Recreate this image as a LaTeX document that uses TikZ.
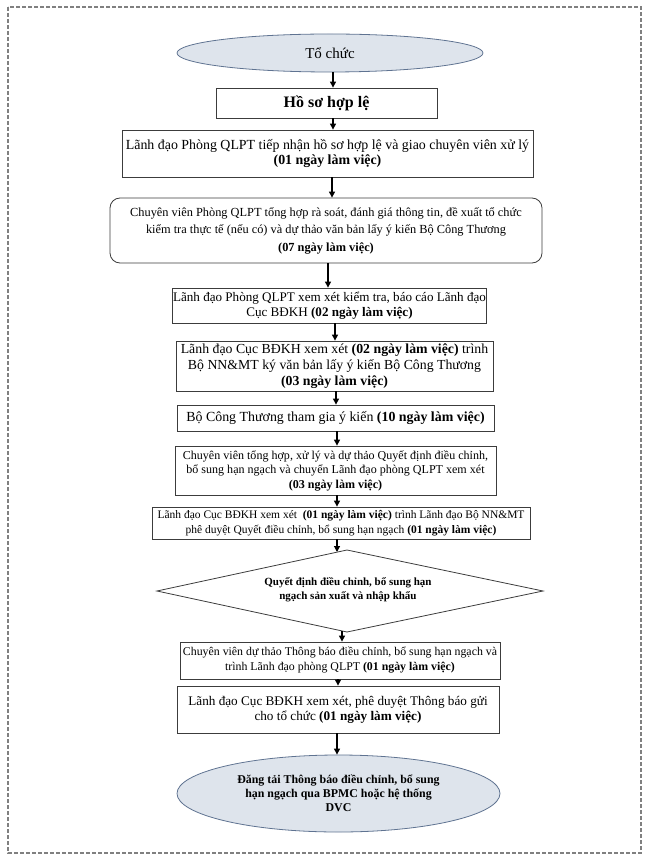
\documentclass[tikz,border=0pt]{standalone}
\usepackage{fontspec}
\setmainfont{Liberation Serif}
\usetikzlibrary{shapes.geometric, arrows.meta}
\definecolor{boxc}{RGB}{60,60,60}
\definecolor{ellc}{RGB}{95,115,145}
\definecolor{ellf}{RGB}{222,228,236}
\definecolor{framec}{RGB}{128,128,128}
\begin{document}
\begin{tikzpicture}[x=1pt,y=-1pt,
  box/.style={draw=boxc, line width=0.8pt, rectangle, inner sep=0.5pt, align=center},
  ell/.style={draw=ellc, fill=ellf, ellipse, line width=0.8pt, inner sep=0pt, align=center},
  arr/.style={line width=1.1pt, -{Triangle[length=6pt,width=6pt]}},
  lbl/.style={inner sep=0pt, align=center},
]
\useasboundingbox (0,0) rectangle (651,866);
\draw[framec, line width=1.4pt, dash pattern=on 4pt off 2pt] (8,7) rectangle (641,853);

\node[ell, minimum width=306pt, minimum height=38pt, font=\fontsize{15}{17}\selectfont] (org) at (330,53) {Tổ chức};
\node[box, minimum width=221pt, minimum height=30pt, font=\fontsize{16}{18}\selectfont\bfseries] (hs) at (326.5,103) {Hồ sơ hợp lệ};
\node[box, minimum width=411pt, minimum height=47pt, font=\fontsize{13.9}{15}\selectfont] (n3) at (327.5,153.5) {Lãnh đạo Phòng QLPT tiếp nhận hồ sơ hợp lệ và giao chuyên viên xử lý\\\textbf{(01 ngày làm việc)}};
\node[box, rounded corners=10pt, minimum width=432pt, minimum height=65pt, font=\fontsize{12.35}{17.5}\selectfont] (n4) at (326,230.5) {Chuyên viên Phòng QLPT tổng hợp rà soát, đánh giá thông tin, đề xuất tổ chức\\kiểm tra thực tế (nếu có) và dự thảo văn bản lấy ý kiến Bộ Công Thương\\\textbf{(07 ngày làm việc)}};
\node[box, minimum width=314pt, minimum height=35pt, font=\fontsize{13.1}{15}\selectfont] (n5) at (329.5,305.5) {Lãnh đạo Phòng QLPT xem xét kiểm tra, báo cáo Lãnh đạo\\Cục BĐKH \textbf{(02 ngày làm việc)}};
\node[box, minimum width=317pt, minimum height=50pt, font=\fontsize{13.8}{16}\selectfont] (n6) at (334.5,366) {Lãnh đạo Cục BĐKH xem xét \textbf{(02 ngày làm việc)} trình\\Bộ NN\&MT ký văn bản lấy ý kiến Bộ Công Thương\\\textbf{(03 ngày làm việc)}};
\node[box, minimum width=317pt, minimum height=26pt, font=\fontsize{13.9}{16}\selectfont] (n7) at (335.5,418) {Bộ Công Thương tham gia ý kiến \textbf{(10 ngày làm việc)}};
\node[box, minimum width=321pt, minimum height=49pt, font=\fontsize{12.05}{14.5}\selectfont] (n8) at (335.5,470.5) {Chuyên viên tổng hợp, xử lý và dự thảo Quyết định điều chỉnh,\\bổ sung hạn ngạch và chuyển Lãnh đạo phòng QLPT xem xét\\\textbf{(03 ngày làm việc)}};
\node[box, minimum width=378pt, minimum height=32pt, font=\fontsize{11.5}{15}\selectfont] (n9) at (341,523) {Lãnh đạo Cục BĐKH xem xét~ \textbf{(01 ngày làm việc)} trình Lãnh đạo Bộ NN\&MT\\phê duyệt Quyết điều chỉnh, bổ sung hạn ngạch \textbf{(01 ngày làm việc)}};

\coordinate (dl) at (157,591);
\coordinate (dt) at (347,550);
\coordinate (dr) at (543,591);
\coordinate (db) at (347,632);
\draw[boxc, line width=0.8pt] (dl) -- (dt) -- (dr) -- (db) -- cycle;
\node[lbl, font=\fontsize{11}{14}\selectfont\bfseries] (dec) at (348,590) {Quyết định điều chỉnh, bổ sung hạn\\ngạch sản xuất và nhập khẩu};
\coordinate (dinA) at (337,552);
\coordinate (doutA) at (342,631);

\node[box, minimum width=320pt, minimum height=37pt, font=\fontsize{11.85}{15}\selectfont] (n11) at (340,660.5) {Chuyên viên dự thảo Thông báo điều chỉnh, bổ sung hạn ngạch và\\trình Lãnh đạo phòng QLPT \textbf{(01 ngày làm việc)}};
\node[box, minimum width=322pt, minimum height=47pt, font=\fontsize{13.2}{15}\selectfont] (n12) at (338,709.5) {Lãnh đạo Cục BĐKH xem xét, phê duyệt Thông báo gửi\\cho tổ chức \textbf{(01 ngày làm việc)}};
\node[ell, minimum width=323pt, minimum height=77pt, font=\fontsize{11.9}{14}\selectfont\bfseries] (fin) at (338.5,793.5) {Đăng tải Thông báo điều chỉnh, bổ sung\\hạn ngạch qua BPMC hoặc hệ thống\\DVC};

\draw[arr] (org.south -| 333,0) -- (hs.north -| 333,0);
\draw[arr] (hs.south -| 333,0) -- (n3.north -| 333,0);
\draw[arr] (n3.south -| 332,0) -- (n4.north -| 332,0);
\draw[arr] (n4.south -| 328,0) -- (n5.north -| 328,0);
\draw[arr] (n5.south -| 335,0) -- (n6.north -| 335,0);
\draw[arr] (n6.south -| 336,0) -- (n7.north -| 336,0);
\draw[arr] (n7.south -| 337,0) -- (n8.north -| 337,0);
\draw[arr] (n8.south -| 337,0) -- (n9.north -| 337,0);
\draw[arr] (n9.south -| 337,0) -- (dinA);
\draw[arr] (doutA) -- (n11.north -| 342,0);
\draw[arr] (n11.south -| 338,0) -- (n12.north -| 338,0);
\draw[arr] (n12.south -| 337,0) -- (fin.north -| 337,0);
\end{tikzpicture}
\end{document}
